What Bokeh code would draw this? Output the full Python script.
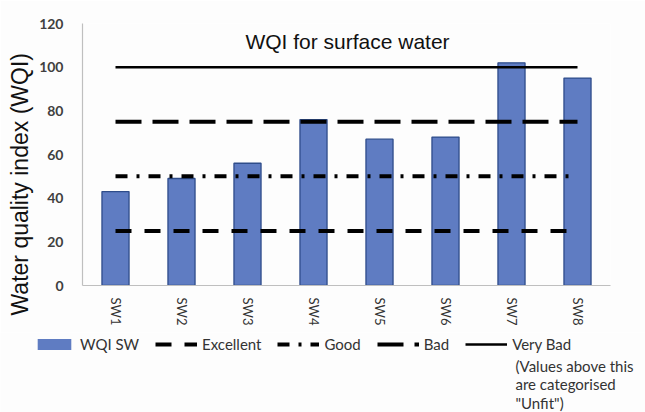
from bokeh.plotting import figure
from bokeh.layouts import column
from bokeh.models import (FactorRange, Range1d, FixedTicker, Legend, LegendItem, Label, Title)
from bokeh.embed import file_html
from bokeh.resources import INLINE

# ---- data ----
categories = ["SW1", "SW2", "SW3", "SW4", "SW5", "SW6", "SW7", "SW8"]
wqi_sw = [43, 49, 56, 76, 67, 68, 102, 95]
class_names = ["Excellent", "Good", "Bad", "Very Bad"]
class_limits = [25, 50, 75, 100]
y_ticks = [0, 20, 40, 60, 80, 100, 120]

title_text = "WQI for surface water"
y_label = "Water quality index (WQI)"
series_name = "WQI SW"
note_text = "(Values above this\nare categorised\n\"Unfit\")"

# ---- styles ----
bg = "#fdfdfd"
bar_fill = "#5f7cc2"
bar_line = "#2e4c8a"
dashes = {"Excellent": "16 13", "Good": "12 9 3 9", "Bad": "26 11", "Very Bad": "solid"}
widths = {"Excellent": 4, "Good": 4, "Bad": 4, "Very Bad": 2.5}


def add_series(fig, bar_outline=bar_line):
    b = fig.vbar(x=categories, top=wqi_sw, width=0.41, fill_color=bar_fill,
                 line_color=bar_outline, line_width=1.3)
    ls = []
    for name, lim in zip(class_names, class_limits):
        ls.append(fig.line(x=[categories[0], categories[-1]], y=[lim, lim], line_color="black",
                           line_width=widths[name], line_dash=dashes[name]))
    return b, ls


p = figure(width=645, height=332, x_range=FactorRange(*categories, range_padding=0),
           y_range=Range1d(0, 120), output_backend="svg", toolbar_location=None,
           min_border_left=80, min_border_right=35, min_border_top=23, min_border_bottom=47,
           background_fill_color=bg, border_fill_color=bg, outline_line_color=None)
p.xgrid.grid_line_color = None
p.ygrid.grid_line_color = None
add_series(p)

# axes
p.yaxis.ticker = FixedTicker(ticks=y_ticks)
for ax in (p.xaxis[0], p.yaxis[0]):
    ax.axis_line_color = "#bfbfbf"
    ax.axis_line_width = 1.2
    ax.major_tick_line_color = None
    ax.minor_tick_line_color = None

p.yaxis.major_label_text_font = "Lato"
p.yaxis.major_label_text_font_style = "bold"
p.yaxis.major_label_text_font_size = "14px"
p.yaxis.major_label_text_color = "#404040"
p.yaxis.major_label_standoff = 13

p.add_layout(Title(text=y_label, text_font="Liberation Sans", text_font_style="normal",
                   text_font_size="23px", text_color="#111111", align="left",
                   offset=-30, standoff=8), "left")

p.xaxis.major_label_orientation = "vertical"
p.xaxis.major_label_text_font = "Lato"
p.xaxis.major_label_text_font_size = "13px"
p.xaxis.major_label_text_color = "#333333"
p.xaxis.major_label_standoff = 6

# title inside the plot area
p.add_layout(Label(x=265, y=244, x_units="screen", y_units="screen", text=title_text,
                   text_font="Liberation Sans", text_font_size="21px",
                   text_align="center", text_baseline="middle", text_color="#111111"))

# ---- legend strip below (proxy renderers lie far outside its visible y range) ----
q = figure(width=645, height=80, x_range=FactorRange(*categories), y_range=Range1d(1000, 1001),
           x_axis_type=None, y_axis_type=None, output_backend="svg", toolbar_location=None,
           min_border_left=0, min_border_right=0, min_border_top=0, min_border_bottom=0,
           background_fill_color=bg, border_fill_color=bg, outline_line_color=None)
q.frame_align = False
q.xgrid.grid_line_color = None
q.ygrid.grid_line_color = None
proxy_bar, proxy_lines = add_series(q, bar_outline=None)

items = [LegendItem(label=series_name, renderers=[proxy_bar])]
for name, r in zip(class_names, proxy_lines):
    items.append(LegendItem(label=name, renderers=[r]))

legend = Legend(items=items, orientation="horizontal", location=(33, 59),
                glyph_width=42, glyph_height=14, label_standoff=5, spacing=16,
                padding=0, margin=0, border_line_color=None, background_fill_alpha=0,
                label_text_font="Lato", label_text_font_size="15px",
                label_text_color="#333333")
q.add_layout(legend, "center")

q.add_layout(Label(x=515, y=56, x_units="screen", y_units="screen", text=note_text,
                   text_font="Lato", text_font_size="15px", text_line_height=1.05,
                   text_align="left", text_baseline="top", text_color="#333333"))

layout = column(p, q, spacing=0)
open("out.html", "w").write(file_html(layout, INLINE))
